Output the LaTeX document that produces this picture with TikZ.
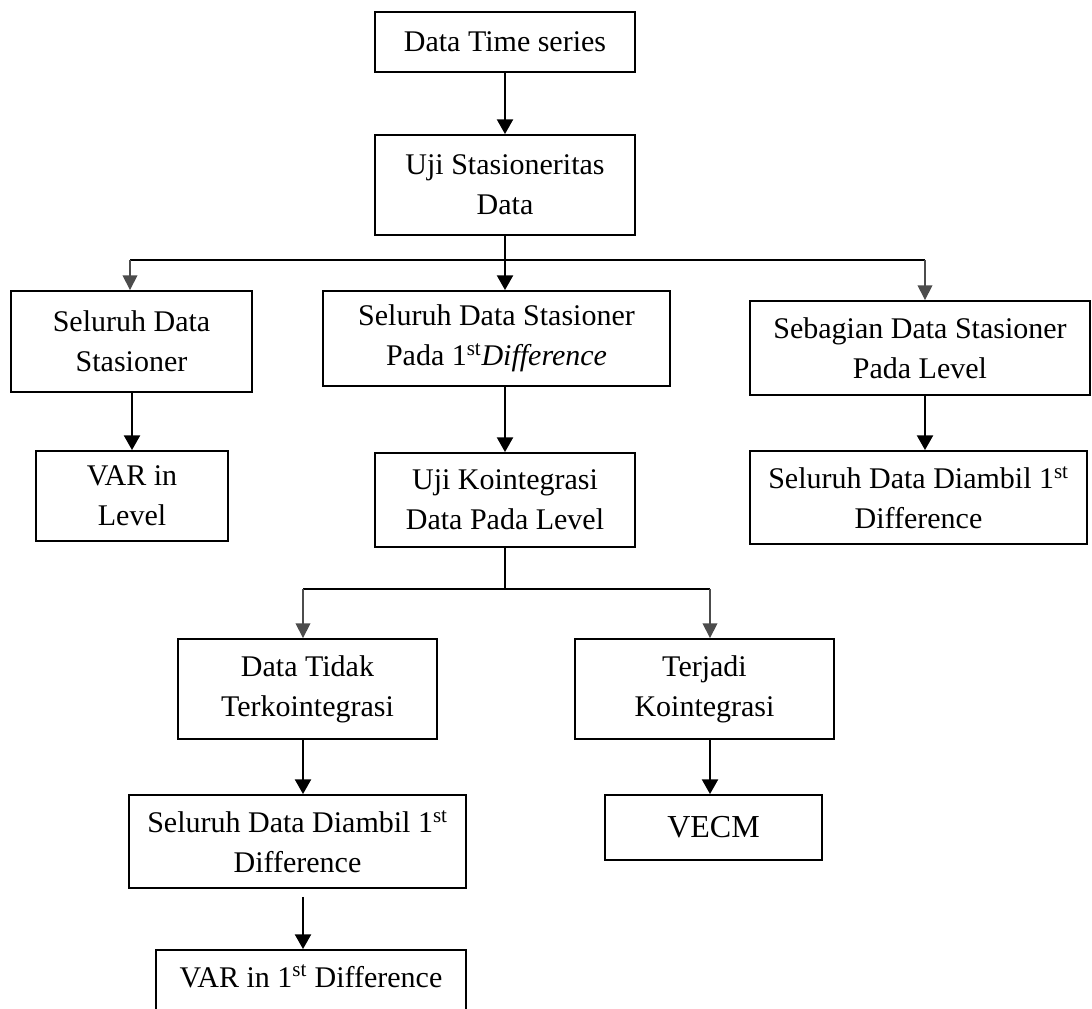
\documentclass[tikz,border=0pt]{standalone}
\usepackage{fontspec}
\setmainfont{Liberation Serif}
\usetikzlibrary{arrows.meta}
\newlength{\unitpx}
\setlength{\unitpx}{0.75pt}
\tikzset{
  box/.style 2 args={draw, line width=1.4pt, align=center, inner sep=0pt,
    minimum width=#1\unitpx, minimum height=#2\unitpx,
    font=\fontsize{22.5}{30}\selectfont},
  arr/.style={line width=1.5pt, -{Triangle[width=12pt,length=11pt]}},
  garr/.style={line width=1.1pt, draw=black!70, -{Triangle[width=11pt,length=11pt]}},
  branch/.style={line width=1pt}
}
\begin{document}
\begin{tikzpicture}[x=0.75pt, y=-0.75pt]
        % Page size (pixels of the reference)
        \clip (0,0) rectangle (1092,1009);

        % Boxes
        \node[box={260}{60}] (ts) at (505,42) {Data Time series};
        \node[box={260}{100}] (uji) at (505,185) {Uji Stasioneritas\\Data};
        \node[box={241}{101}] (allst) at (131.5,341.5) {Seluruh Data\\Stasioner};
        \node[box={347}{95}] (diff) at (496.5,338.5) {Seluruh Data Stasioner\\Pada 1\textsuperscript{st}\textit{Difference}};
        \node[box={340}{94}] (part) at (920,348) {Sebagian Data Stasioner\\Pada Level};
        \node[box={192}{90}] (varlvl) at (132,496) {VAR in\\Level};
        \node[box={260}{94}] (koint) at (505,500) {Uji Kointegrasi\\Data Pada Level};
        \node[box={337}{93}] (alldiffR) at (918.5,497.5) {Seluruh Data Diambil 1\textsuperscript{st}\\Difference};
        \node[box={259}{100}] (tidak) at (307.5,689) {Data Tidak\\Terkointegrasi};
        \node[box={259}{100}] (terjadi) at (704.5,689) {Terjadi\\Kointegrasi};
        \node[box={337}{93}] (alldiffL) at (297.5,841.5) {Seluruh Data Diambil 1\textsuperscript{st}\\Difference};
        \node[box={217}{65}, font=\fontsize{24}{30}\selectfont] (vecm) at (713.5,827.5) {VECM};
        % last box runs off the page
        \node[box={310}{0}, anchor=base, text height=27.75pt, text depth=30pt] (var1) at (311,987) {VAR in 1\textsuperscript{st} Difference};

        % Branch points
        \coordinate (jA) at (505,260);
        \coordinate (jL) at (130,260);
        \coordinate (jR) at (925,260);
        \coordinate (jB) at (505,589);
        \coordinate (jBL) at (303,589);
        \coordinate (jBR) at (710,589);

        % Connectors
        \draw[arr] (ts) -- (uji);
        \draw[branch] (uji.south) -- (jA);
        \draw[branch] (jL) -- (jR);
        \draw[arr] (jA) -- (jA |- diff.north);
        \draw[garr] (jL) -- (jL |- allst.north);
        \draw[garr] (jR) -- (jR |- part.north);

        \draw[arr] (varlvl.north |- allst.south) -- (varlvl.north);
        \draw[arr] (koint.north |- diff.south) -- (koint.north);
        \draw[arr] (jR |- part.south) -- (jR |- alldiffR.north);

        \draw[branch] (koint.south) -- (jB);
        \draw[branch] (jBL) -- (jBR);
        \draw[garr] (jBL) -- (jBL |- tidak.north);
        \draw[garr] (jBR) -- (jBR |- terjadi.north);

        \draw[arr] (jBL |- tidak.south) -- (jBL |- alldiffL.north);
        \draw[arr] (jBR |- terjadi.south) -- (jBR |- vecm.north);
        \draw[arr, shorten <=6pt] (jBL |- alldiffL.south) -- (jBL |- var1.north);
\end{tikzpicture}
\end{document}
